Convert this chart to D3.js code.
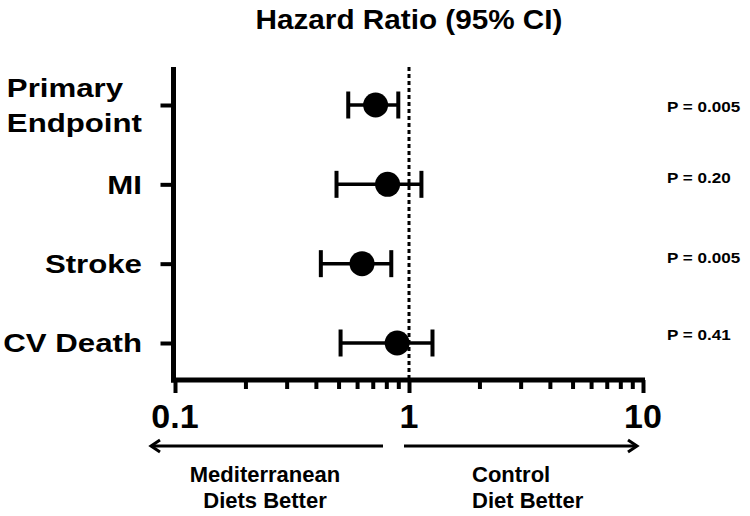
<!DOCTYPE html>
<html>
<head>
<meta charset="utf-8">
<script src="https://cdn.jsdelivr.net/npm/d3@7/dist/d3.min.js"></script>
<style>
  html, body { margin: 0; padding: 0; background: #fff; }
  text { font-family: "Liberation Sans", Arial, sans-serif; font-weight: bold; fill: #000; }
</style>
</head>
<body>
<script>
// ---- data ----
const categories = ["Primary Endpoint", "MI", "Stroke", "CV Death"];
const categoryLines = [["Primary", "Endpoint"], ["MI"], ["Stroke"], ["CV Death"]];
const hazardRatio = [0.72, 0.81, 0.63, 0.89];
const ciLower = [0.55, 0.49, 0.42, 0.51];
const ciUpper = [0.90, 1.13, 0.84, 1.26];
const pLabels = ["P = 0.005", "P = 0.20", "P = 0.005", "P = 0.41"];
const majorTicks = [0.1, 1, 10];
const majorTickLabels = ["0.1", "1", "10"];
const title = "Hazard Ratio (95% CI)";
const leftNote = ["Mediterranean", "Diets Better"];
const rightNote = ["Control", "Diet Better"];

// ---- layout ----
const W = 750, H = 516;
const svg = d3.select("body").append("svg").attr("width", W).attr("height", H);
const x = d3.scaleLog().domain([0.1, 10]).range([175, 643]);
const y = d3.scalePoint().domain(categories).range([105, 343]);
const axisY = 380;
const yAxisX = 173.5;

// title
svg.append("text")
  .attr("transform", `translate(${x(1)},29) scale(1.1,1)`)
  .attr("text-anchor", "middle")
  .style("font-size", "27px")
  .text(title);

// y axis ticks via d3 axis
const yAxis = svg.append("g")
  .attr("transform", `translate(${yAxisX},0)`)
  .call(d3.axisLeft(y).tickSize(13).tickSizeOuter(0).tickFormat(""));
yAxis.select(".domain").remove();
yAxis.selectAll(".tick line").attr("stroke", "#000").attr("stroke-width", 4);
// y axis line
svg.append("line")
  .attr("x1", yAxisX).attr("x2", yAxisX)
  .attr("y1", 67).attr("y2", axisY + 2.5)
  .attr("stroke", "#000").attr("stroke-width", 5);

// category labels (multi-line block, right-aligned, lines left-aligned)
const labelRight = 142, labelScale = 1.2, labelSize = 26, lineGap = 34.5, capH = labelSize * 0.716;
categories.forEach((c, i) => {
  const lines = categoryLines[i];
  const g = svg.append("g");
  const texts = lines.map((ln, j) => g.append("text")
    .style("font-size", labelSize + "px")
    .attr("x", 0).attr("y", 0)
    .text(ln));
  const widths = texts.map(t => t.node().getComputedTextLength() * labelScale);
  const maxW = d3.max(widths);
  const startX = labelRight - maxW;
  const blockH = capH + (lines.length - 1) * lineGap;
  const firstBase = y(c) - blockH / 2 + capH;
  texts.forEach((t, j) => {
    t.attr("transform", `translate(${startX},${firstBase + j * lineGap}) scale(${labelScale},1)`);
  });
});

// x axis
const xAxis = svg.append("g")
  .attr("transform", `translate(0,${axisY})`)
  .call(d3.axisBottom(x).tickValues(x.ticks()).tickSize(9).tickSizeOuter(0).tickFormat(""));
xAxis.select(".domain").remove();
xAxis.selectAll(".tick line")
  .attr("stroke", "#000").attr("stroke-width", 4)
  .attr("y2", d => majorTicks.some(m => Math.abs(m - d) < 1e-9) ? 13 : 9);
svg.append("line")
  .attr("x1", yAxisX - 2.5).attr("x2", x(10) + 2)
  .attr("y1", axisY).attr("y2", axisY)
  .attr("stroke", "#000").attr("stroke-width", 5);
svg.selectAll(".xlab").data(majorTicks).enter().append("text")
  .attr("class", "xlab")
  .attr("x", d => x(d)).attr("y", 428)
  .attr("text-anchor", "middle")
  .style("font-size", "34px")
  .text((d, i) => majorTickLabels[i]);

// reference line at 1
svg.append("line")
  .attr("x1", x(1)).attr("x2", x(1))
  .attr("y1", 67).attr("y2", axisY - 2)
  .attr("stroke", "#000").attr("stroke-width", 3)
  .attr("stroke-dasharray", "4,3");

// error bars & points
const rows = categories.map((c, i) => ({ c, hr: hazardRatio[i], lo: ciLower[i], hi: ciUpper[i], p: pLabels[i] }));
const capHalf = 13.5;
const gRows = svg.selectAll(".row").data(rows).enter().append("g").attr("class", "row");
gRows.append("line")
  .attr("x1", d => x(d.lo)).attr("x2", d => x(d.hi))
  .attr("y1", d => y(d.c)).attr("y2", d => y(d.c))
  .attr("stroke", "#000").attr("stroke-width", 3.5);
gRows.append("line")
  .attr("x1", d => x(d.lo)).attr("x2", d => x(d.lo))
  .attr("y1", d => y(d.c) - capHalf).attr("y2", d => y(d.c) + capHalf)
  .attr("stroke", "#000").attr("stroke-width", 4);
gRows.append("line")
  .attr("x1", d => x(d.hi)).attr("x2", d => x(d.hi))
  .attr("y1", d => y(d.c) - capHalf).attr("y2", d => y(d.c) + capHalf)
  .attr("stroke", "#000").attr("stroke-width", 4);
gRows.append("circle")
  .attr("cx", d => x(d.hr)).attr("cy", d => y(d.c))
  .attr("r", 12.5).attr("fill", "#000");

// p-values
const pOffsets = [7, -1, -1, -3];
gRows.append("text")
  .attr("transform", (d, i) => `translate(667,${y(d.c) + pOffsets[i]}) scale(1.22,1)`)
  .style("font-size", "14px")
  .text(d => d.p);

// arrows
const arrowY = 446;
function arrow(x1, x2) {
  svg.append("line").attr("x1", x1).attr("x2", x2).attr("y1", arrowY).attr("y2", arrowY)
    .attr("stroke", "#000").attr("stroke-width", 3);
  const dir = x2 > x1 ? 1 : -1;
  svg.append("path")
    .attr("d", `M${x2 - dir * 9},${arrowY - 6} L${x2},${arrowY} L${x2 - dir * 9},${arrowY + 6}`)
    .attr("fill", "none").attr("stroke", "#000").attr("stroke-width", 3)
    .attr("stroke-linejoin", "miter");
}
arrow(x(1) - 26, 151);
arrow(x(1) - 5, 637);

// notes below arrows
leftNote.forEach((t, j) => {
  svg.append("text").attr("x", 265).attr("y", 482 + j * 26)
    .attr("text-anchor", "middle").style("font-size", "22px").text(t);
});
rightNote.forEach((t, j) => {
  svg.append("text").attr("x", 472).attr("y", 482 + j * 26)
    .attr("text-anchor", "start").style("font-size", "22px").text(t);
});
</script>
</body>
</html>
